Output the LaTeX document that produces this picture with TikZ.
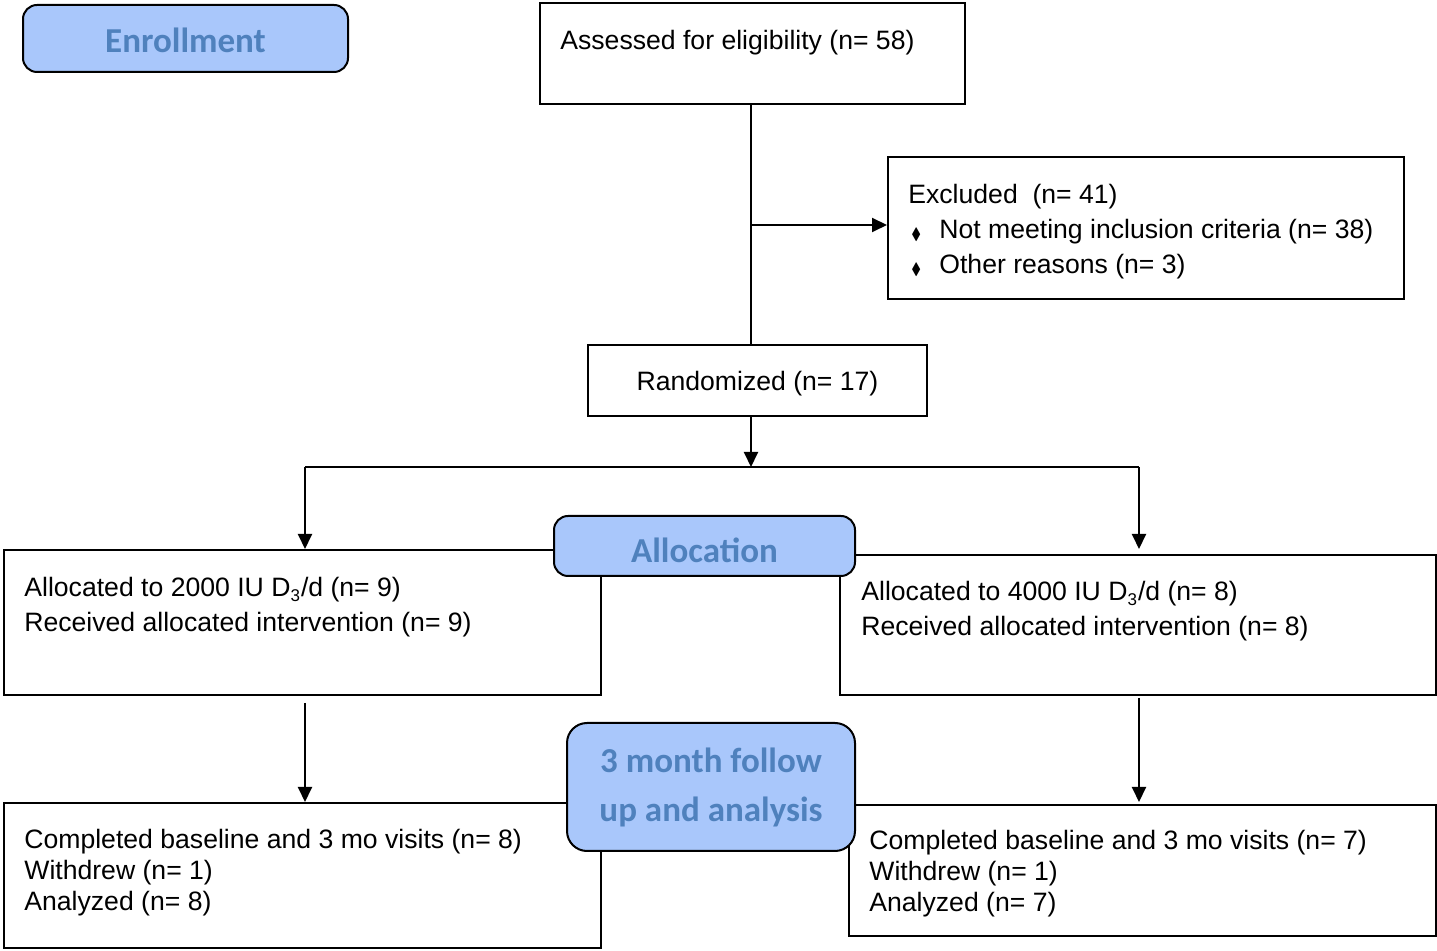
\documentclass[tikz,border=0pt]{standalone}
\usepackage{fontspec}
\setmainfont{Liberation Sans}
\newfontfamily\calfont{Carlito}
\usepackage{amssymb}
\usetikzlibrary{arrows.meta,fit}
\definecolor{stagefill}{HTML}{A9C7FB}
\definecolor{stagetext}{HTML}{4F81BD}
\newcommand\dia{\makebox[15.5pt][l]{\hspace{1.5pt}\raisebox{-0.5pt}{\scalebox{0.55}[0.62]{$\blacklozenge$}}}}
\newcommand\subthree{\textsubscript{\fontsize{8.5}{8.5}\selectfont 3}}

\begin{document}
\begin{tikzpicture}[x=0.5pt, y=-0.5pt,
        box/.style={draw, line width=1pt, inner sep=0pt},
        stage/.style={box, rounded corners=7pt, fill=stagefill},
        stagetxt/.style={inner sep=0pt, text=stagetext, align=center,
                         font=\calfont\bfseries\fontsize{17.5}{24.5}\selectfont},
        txt/.style={anchor=west, inner sep=0pt, align=left,
                    font=\fontsize{13.3}{17.5}\selectfont},
        line/.style={line width=1pt},
        arr/.style={line, -{Triangle[length=7.5pt,width=7pt]}}]
    \useasboundingbox (0,0) rectangle (1437,951);

    \node[box, fit={(540,3) (965,104)}] (assess) {};
    \node[box, fit={(888,157) (1404,299)}] (excl) {};
    \node[box, fit={(588,345) (927,416)}] (rand) {};
    \node[box, fit={(4,550) (601,695)}] (allocL) {};
    \node[box, fit={(840,555) (1436,695)}] (allocR) {};
    \node[box, fit={(4,803) (601,948)}] (doneL) {};
    \node[box, fit={(849,805) (1436,936)}] (doneR) {};

    \node[txt] (assessT) at (560,43) {Assessed for eligibility (n= 58)};
    \node[txt] (exclT) at (908,232) {Excluded\ \ (n= 41)\\
        \dia Not meeting inclusion criteria (n= 38)\\
        \dia Other reasons (n= 3)};
    \node[txt, anchor=center] (randT) at ([yshift=-1.5pt]rand.center) {Randomized (n= 17)};
    \node[txt] (allocLT) at (24,607.5) {Allocated to 2000 IU D\subthree/d (n= 9)\\
        Received allocated intervention (n= 9)};
    \node[txt] (allocRT) at (861,611.5) {Allocated to 4000 IU D\subthree/d (n= 8)\\
        Received allocated intervention (n= 8)};
    \node[txt, font=\fontsize{13.3}{15.5}\selectfont] (doneLT) at (24,873) {Completed baseline and 3 mo visits (n= 8)\\
        Withdrew (n= 1)\\ Analyzed (n= 8)};
    \node[txt, font=\fontsize{13.3}{15.5}\selectfont] (doneRT) at (869,874) {Completed baseline and 3 mo visits (n= 7)\\
        Withdrew (n= 1)\\ Analyzed (n= 7)};

    \coordinate (j1) at (751,225);
    \coordinate (j2) at (751,467);
    \coordinate (sL) at (305,467);
    \coordinate (sR) at (1139,467);

    \draw[line] (assess.south -| j1) -- (rand.north -| j1);
    \draw[arr] (j1) -- (j1 -| excl.west);
    \draw[arr] (rand.south -| j2) -- (j2);
    \draw[line] (sL) -- (sR);
    \draw[arr] (sL) -- (sL |- allocL.north);
    \draw[arr, shorten >=2.5pt] (sR) -- (sR |- allocR.north);
    \draw[arr, shorten <=3.5pt] (allocL.south -| sL) -- (doneL.north -| sL);
    \draw[arr, shorten <=1pt, shorten >=1pt] (allocR.south -| sR) -- (doneR.north -| sR);

    \node[stage, fit={(23,5) (348,72)}] (enroll) {};
    \node[stage, fit={(554,516) (855,576)}] (alloc) {};
    \node[stage, fit={(567,723) (855,851)}, rounded corners=10pt] (follow) {};
    \node[stagetxt] (enrollT) at ([yshift=-1pt]enroll.center) {Enrollment};
    \node[stagetxt] (allocT) at ([yshift=-2pt]alloc.center) {Allocation};
    \node[stagetxt] (followT) at (follow.center) {3 month follow\\up and analysis};
\end{tikzpicture}
\end{document}
